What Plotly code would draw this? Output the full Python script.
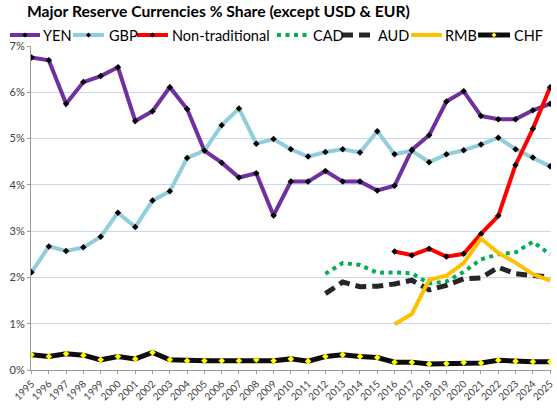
import plotly.graph_objects as go

years = list(range(1995, 2026))
yrs_new = list(range(2012, 2026))
yrs_2016 = list(range(2016, 2026))

yen = [6.75, 6.69, 5.75, 6.22, 6.35, 6.54, 5.38, 5.59, 6.11, 5.64, 4.74, 4.48, 4.16, 4.25, 3.34,
       4.07, 4.07, 4.30, 4.07, 4.07, 3.88, 3.98, 4.76, 5.07, 5.80, 6.02, 5.49, 5.42, 5.42, 5.61, 5.75]
gbp = [2.11, 2.67, 2.57, 2.65, 2.88, 3.40, 3.09, 3.66, 3.86, 4.58, 4.74, 5.29, 5.65, 4.89, 4.99,
       4.77, 4.61, 4.71, 4.77, 4.70, 5.16, 4.66, 4.74, 4.49, 4.66, 4.75, 4.87, 5.02, 4.77, 4.59, 4.40]
nontrad = [2.56, 2.48, 2.62, 2.45, 2.51, 2.94, 3.33, 4.43, 5.21, 6.11]
cad = [2.08, 2.31, 2.27, 2.10, 2.11, 2.09, 1.87, 1.91, 2.12, 2.39, 2.50, 2.54, 2.77, 2.50]
aud = [1.65, 1.90, 1.80, 1.81, 1.86, 1.94, 1.73, 1.83, 1.97, 1.99, 2.22, 2.08, 2.04, 2.01]
rmb = [0.99, 1.21, 1.95, 2.04, 2.31, 2.84, 2.53, 2.32, 2.07, 1.93]
chf = [0.33, 0.29, 0.35, 0.32, 0.22, 0.29, 0.24, 0.38, 0.22, 0.20, 0.20, 0.20, 0.20, 0.22, 0.20,
       0.24, 0.19, 0.29, 0.33, 0.29, 0.27, 0.17, 0.17, 0.13, 0.14, 0.16, 0.15, 0.21, 0.19, 0.18, 0.18]

FONT = "Lato"

# figure geometry (page body margin removed via post_script)
W, H = 557, 409
L, R, T, B = 31, 6, 46, 409 - 370
PW, PH = W - L - R, H - T - B

def px(xr):  # pixel x -> paper
    return (xr - L) / PW

def py(yr):  # pixel y -> paper
    return (H - B - yr) / PH

fig = go.Figure()

# series styles: name, color, width, dash, marker color
styles = [
    ("YEN", "#7030A0", 4, "solid", "black"),
    ("GBP", "#92CDDC", 4, "solid", "black"),
    ("Non-traditional", "#FF0000", 4, "solid", "black"),
    ("CAD", "#00B050", 4, "4px,4.5px", None),
    ("AUD", "#262626", 5, "11px,6px", None),
    ("RMB", "#FFC000", 4, "solid", None),
    ("CHF", "#0D0D0D", 5, "solid", "#FFFF00"),
]
data = [(years, yen), (years, gbp), (yrs_2016, nontrad), (yrs_new, cad),
        (yrs_new, aud), (yrs_2016, rmb), (years, chf)]

for (name, color, width, dash, mc), (x, y) in zip(styles, data):
    kw = dict(x=x, y=y, name=name, showlegend=False,
              line=dict(color=color, width=width, dash=dash))
    if mc:
        kw["mode"] = "lines+markers"
        kw["marker"] = dict(symbol="diamond", size=5, color=mc)
    else:
        kw["mode"] = "lines"
    fig.add_trace(go.Scatter(**kw))

# custom legend (pixel positions: symbol start/end, text start)
leg_pos = [(10, 40, 41), (73, 104, 107), (137, 168, 170), (277, 310, 311),
           (342, 373, 376), (411, 442, 443), (478, 510, 512)]
leg_y = 35
shapes, annots = [], []
for (name, color, width, dash, mc), (x0, x1, xt) in zip(styles, leg_pos):
    shapes.append(dict(type="line", xref="paper", yref="paper",
                       x0=px(x0), x1=px(x1), y0=py(leg_y), y1=py(leg_y),
                       line=dict(color=color, width=width, dash=dash)))
    if mc:
        cx = (x0 + x1) / 2
        r = 2.5
        path = (f"M{px(cx - r)},{py(leg_y)} L{px(cx)},{py(leg_y - r)} "
                f"L{px(cx + r)},{py(leg_y)} L{px(cx)},{py(leg_y + r)} Z")
        shapes.append(dict(type="path", xref="paper", yref="paper", path=path,
                           fillcolor=mc, line=dict(width=0)))
    annots.append(dict(text=name, xref="paper", yref="paper", x=px(xt), y=py(leg_y),
                       xanchor="left", yanchor="middle", showarrow=False,
                       font=dict(family=FONT, size=14.5, color="black")))

fig.update_layout(
    width=W, height=H,
    margin=dict(l=L, r=R, t=T, b=B, autoexpand=False),
    paper_bgcolor="white", plot_bgcolor="white",
    font=dict(family=FONT, color="#404040"),
    title=dict(text="<b>Major Reserve Currencies % Share (except USD &amp; EUR)</b>",
               x=27 / W, xanchor="left", y=1 - 12 / H, yanchor="middle",
               font=dict(family=FONT, size=15.7, color="black"), automargin=False),
    showlegend=False,
    shapes=shapes,
    annotations=annots,
)
fig.update_xaxes(
    range=[1994.97, 2025.05], tickmode="array", tickvals=years, ticktext=[str(y) for y in years],
    tickangle=-45, tickfont=dict(family=FONT, size=10, color="#404040"),
    showgrid=False, showline=True, linecolor="#9A9A9A", linewidth=1, automargin=False,
    ticks="outside", ticklen=3, tickcolor="#9A9A9A", zeroline=False,
)
fig.update_yaxes(
    range=[0, 7], tickmode="array", tickvals=list(range(0, 8)),
    ticktext=[f"{v}%" for v in range(0, 8)], automargin=False,
    tickfont=dict(family=FONT, size=11, color="#404040"),
    showgrid=True, gridcolor="#C6D9F1", gridwidth=1,
    showline=True, linecolor="#9A9A9A", linewidth=1,
    ticks="outside", ticklen=3, tickcolor="#9A9A9A", zeroline=False,
)

fig.write_html("out.html",
               config={"displayModeBar": False},
               post_script="document.body.style.margin='0px';document.body.style.overflow='hidden';")
